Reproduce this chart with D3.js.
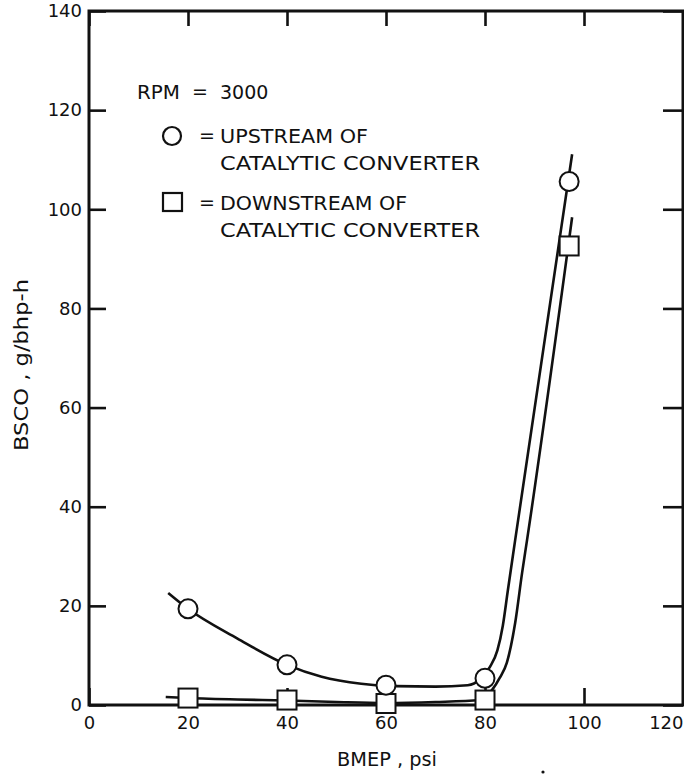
<!DOCTYPE html>
<html>
<head>
<meta charset="utf-8">
<script src="https://cdn.jsdelivr.net/npm/d3@7"></script>
<style>
  body { margin: 0; background: #fff; }
  svg text { font-family: "DejaVu Sans", sans-serif; fill: #111; }
</style>
</head>
<body>
<svg id="svg"></svg>
<script>
// x ticks / y ticks
var xTicks = [0, 20, 40, 60, 80, 100, 120];
var yTicks = [0, 20, 40, 60, 80, 100, 120, 140];

// measured points, BMEP psi
var bmep = [20, 40, 60, 80, 97];
var upstream = [19.4, 8.1, 4.0, 5.4, 105.6];
var downstream = [1.4, 1.0, 0.3, 1.0, 92.6];

// faired curves as drawn on the original
var upstreamCurve = [
  [16, 22.6], [20, 19.4], [30, 13.4], [40, 8.1], [47, 5.7], [55, 4.3],
  [62, 3.8], [70, 3.7], [76.5, 4.0], [79, 5.2], [81, 7.7], [82.5, 11],
  [83.6, 16], [84.6, 23], [86.1, 33.3], [97.6, 111.1]
];
var downstreamCurve = [
  [15.5, 1.6], [20, 1.4], [30, 1.1], [40, 0.9], [50, 0.6], [60, 0.4],
  [70, 0.6], [79, 1.0], [81.4, 3.0], [83, 5.5], [84.4, 8.5], [86.1, 16.6],
  [87.5, 26.7], [88.5, 33.3], [97.6, 98.4]
];

var rpmLabel = ['RPM', '=', '3000'];
var legendLines = ['UPSTREAM OF', 'CATALYTIC CONVERTER', 'DOWNSTREAM OF', 'CATALYTIC CONVERTER'];

var Chart = {
  width: 684,
  height: 775,
  left: 89,
  right: 683,
  top: 11,
  bottom: 705,
  tick: 17,

  init: function() {
    this.svg = d3.select('#svg')
      .attr('width', this.width)
      .attr('height', this.height);

    this.x = d3.scaleLinear().domain([0, 120]).range([this.left, this.right]);
    this.y = d3.scaleLinear().domain([0, 140]).range([this.bottom, this.top]);

    this.buildAxes();
    this.buildCurves();
    this.buildMarkers();
    this.buildLegend();
  },

  buildAxes: function() {
    var x = this.x, y = this.y, svg = this.svg, t = this.tick;

    svg.append('g')
      .attr('transform', 'translate(' + this.left + ',0)')
      .call(d3.axisLeft(y).tickValues(yTicks).tickSize(-t).tickPadding(7));
    var gb = svg.append('g')
      .attr('transform', 'translate(0,' + this.bottom + ')')
      .call(d3.axisBottom(x).tickValues(xTicks).tickSize(-t).tickPadding(11));
    svg.append('g')
      .attr('transform', 'translate(' + this.right + ',0)')
      .call(d3.axisRight(y).tickValues(yTicks).tickSize(-20).tickFormat(''));
    svg.append('g')
      .attr('transform', 'translate(0,' + this.top + ')')
      .call(d3.axisTop(x).tickValues(xTicks).tickSize(-15).tickFormat(''));

    svg.selectAll('.domain').remove();
    svg.selectAll('.tick line').attr('stroke', '#111').attr('stroke-width', 2.6);
    svg.selectAll('.tick text')
      .style('font-size', '18px')
      .style('font-family', '"DejaVu Sans", sans-serif')
      .attr('fill', '#111');
    gb.selectAll('.tick text').filter(function(d) { return d === 120; })
      .attr('text-anchor', 'end').attr('dx', 0);

    svg.append('rect')
      .attr('x', this.left).attr('y', this.top)
      .attr('width', this.right - this.left)
      .attr('height', this.bottom - this.top)
      .attr('fill', 'none').attr('stroke', '#111').attr('stroke-width', 3);

    svg.append('text')
      .attr('x', 337).attr('y', 766)
      .attr('textLength', 100).attr('lengthAdjust', 'spacingAndGlyphs')
      .style('font-size', '19px')
      .text('BMEP , psi');

    svg.append('text')
      .attr('transform', 'translate(28,451) rotate(-90)')
      .attr('textLength', 172).attr('lengthAdjust', 'spacingAndGlyphs')
      .style('font-size', '19px')
      .text('BSCO , g/bhp-h');

    // speck on the scan
    svg.append('circle').attr('cx', 543).attr('cy', 772).attr('r', 1.6).attr('fill', '#111');
  },

  buildCurves: function() {
    var x = this.x, y = this.y;
    var line = d3.line()
      .x(function(d) { return x(d[0]); })
      .y(function(d) { return y(d[1]); })
      .curve(d3.curveMonotoneX);
    [upstreamCurve, downstreamCurve].forEach(function(c) {
      Chart.svg.append('path')
        .attr('d', line(c))
        .attr('fill', 'none')
        .attr('stroke', '#111')
        .attr('stroke-width', 2.6);
    });
  },

  buildMarkers: function() {
    var x = this.x, y = this.y, svg = this.svg;
    svg.selectAll('rect.down').data(bmep).enter().append('rect')
      .attr('class', 'down')
      .attr('x', function(d) { return x(d) - 9.5; })
      .attr('y', function(d, i) { return y(downstream[i]) - 9.5; })
      .attr('width', 19).attr('height', 19)
      .attr('fill', '#fff').attr('stroke', '#111').attr('stroke-width', 2);
    svg.selectAll('circle.up').data(bmep).enter().append('circle')
      .attr('class', 'up')
      .attr('cx', function(d) { return x(d); })
      .attr('cy', function(d, i) { return y(upstream[i]); })
      .attr('r', 9.5)
      .attr('fill', '#fff').attr('stroke', '#111').attr('stroke-width', 2);
  },

  buildLegend: function() {
    var svg = this.svg, fs = '19px';
    function txt(x, y, s, len) {
      var t = svg.append('text').attr('x', x).attr('y', y).style('font-size', fs).text(s);
      if (len) t.attr('textLength', len).attr('lengthAdjust', 'spacingAndGlyphs');
      return t;
    }
    txt(137, 99, rpmLabel[0], 43);
    txt(192, 98, rpmLabel[1]);
    txt(220, 99, rpmLabel[2]);

    svg.append('circle').attr('cx', 172).attr('cy', 136).attr('r', 9)
      .attr('fill', '#fff').attr('stroke', '#111').attr('stroke-width', 2.2);
    txt(199, 142, '=');
    txt(220, 143, legendLines[0], 148);
    txt(220, 170, legendLines[1], 260);

    svg.append('rect').attr('x', 163).attr('y', 193).attr('width', 19).attr('height', 18)
      .attr('fill', '#fff').attr('stroke', '#111').attr('stroke-width', 2.2);
    txt(199, 209, '=');
    txt(220, 210, legendLines[2], 187);
    txt(220, 237, legendLines[3], 260);
  }
};

Chart.init();
</script>
</body>
</html>
